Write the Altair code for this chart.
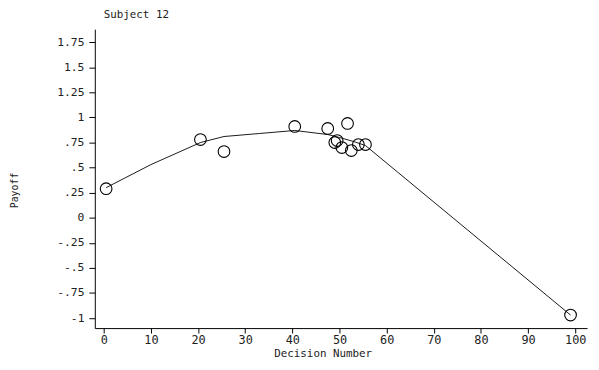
import altair as alt
import pandas as pd

# Observed decisions (decision number, payoff)
decision = [0.5, 20.5, 25.5, 40.5, 47.5, 51.7, 49.5, 49.0, 50.5, 52.5, 54.0, 55.5, 99.0]
payoff = [0.29, 0.78, 0.66, 0.91, 0.89, 0.94, 0.77, 0.75, 0.70, 0.67, 0.73, 0.73, -0.97]

# Fitted curve
fit_x = [0.5, 10, 20.5, 25.5, 33, 40.5, 47.5, 50, 53, 55.5, 99.0]
fit_y = [0.30, 0.53, 0.75, 0.81, 0.84, 0.87, 0.83, 0.80, 0.76, 0.72, -0.97]

y_tick_values = [-1, -0.75, -0.5, -0.25, 0, 0.25, 0.5, 0.75, 1, 1.25, 1.5, 1.75]
y_tick_labels = ["-1", "-.75", "-.5", "-.25", "0", ".25", ".5", ".75", "1", "1.25", "1.5", "1.75"]
x_tick_values = [0, 10, 20, 30, 40, 50, 60, 70, 80, 90, 100]

pts = pd.DataFrame({"x": decision, "y": payoff})
fit = pd.DataFrame({"x": fit_x, "y": fit_y})

label_expr = " : ".join(
    f"abs(datum.value - ({v})) < 0.001 ? '{l}'" for v, l in zip(y_tick_values, y_tick_labels)
) + " : ''"

FONT = "DejaVu Sans Mono"

xscale = alt.Scale(domain=[-1.9, 102.5], nice=False, zero=False)
yscale = alt.Scale(domain=[-1.1, 1.88], nice=False, zero=False)

xaxis = alt.Axis(values=x_tick_values, tickCount=len(x_tick_values),
                 title="Decision Number", grid=False,
                 tickSize=5, labelPadding=2, titlePadding=2, titleX=231,
                 labelOverlap=False,
                 domainColor="black", tickColor="black", labelColor="#222",
                 titleColor="#222", labelFont=FONT, titleFont=FONT,
                 labelFontSize=12, titleFontSize=11, titleFontWeight="normal")
yaxis = alt.Axis(values=y_tick_values, tickCount=len(y_tick_values),
                 labelExpr=label_expr, title="Payoff",
                 grid=False, tickSize=6, labelPadding=5,
                 titleX=-76, titleY=163, titleAngle=270,
                 labelOverlap=False,
                 domainColor="black", tickColor="black", labelColor="#222",
                 titleColor="#222", labelFont=FONT, titleFont=FONT,
                 labelFontSize=11.5, titleFontSize=10, titleFontWeight="normal")

line = alt.Chart(fit).mark_line(color="black", strokeWidth=0.9).encode(
    x=alt.X("x:Q", scale=xscale, axis=xaxis),
    y=alt.Y("y:Q", scale=yscale, axis=yaxis),
)
circles = alt.Chart(pts).mark_point(shape="circle", size=140, filled=False,
                                     color="black", strokeWidth=1.1, opacity=1).encode(
    x=alt.X("x:Q", scale=xscale),
    y=alt.Y("y:Q", scale=yscale),
)

chart = alt.layer(line, circles).properties(
    width=499, height=303,
    title=alt.TitleParams("Subject 12", anchor="start", frame="group", font=FONT,
                          fontSize=11, fontWeight="normal", color="#222",
                          offset=9, dx=9),
    autosize=alt.AutoSizeParams(type="none"),
    padding={"left": 88, "top": 19, "right": 4, "bottom": 40},
).configure_view(stroke=None)

chart.save("out.html", embed_options={"renderer": "svg", "actions": False})
